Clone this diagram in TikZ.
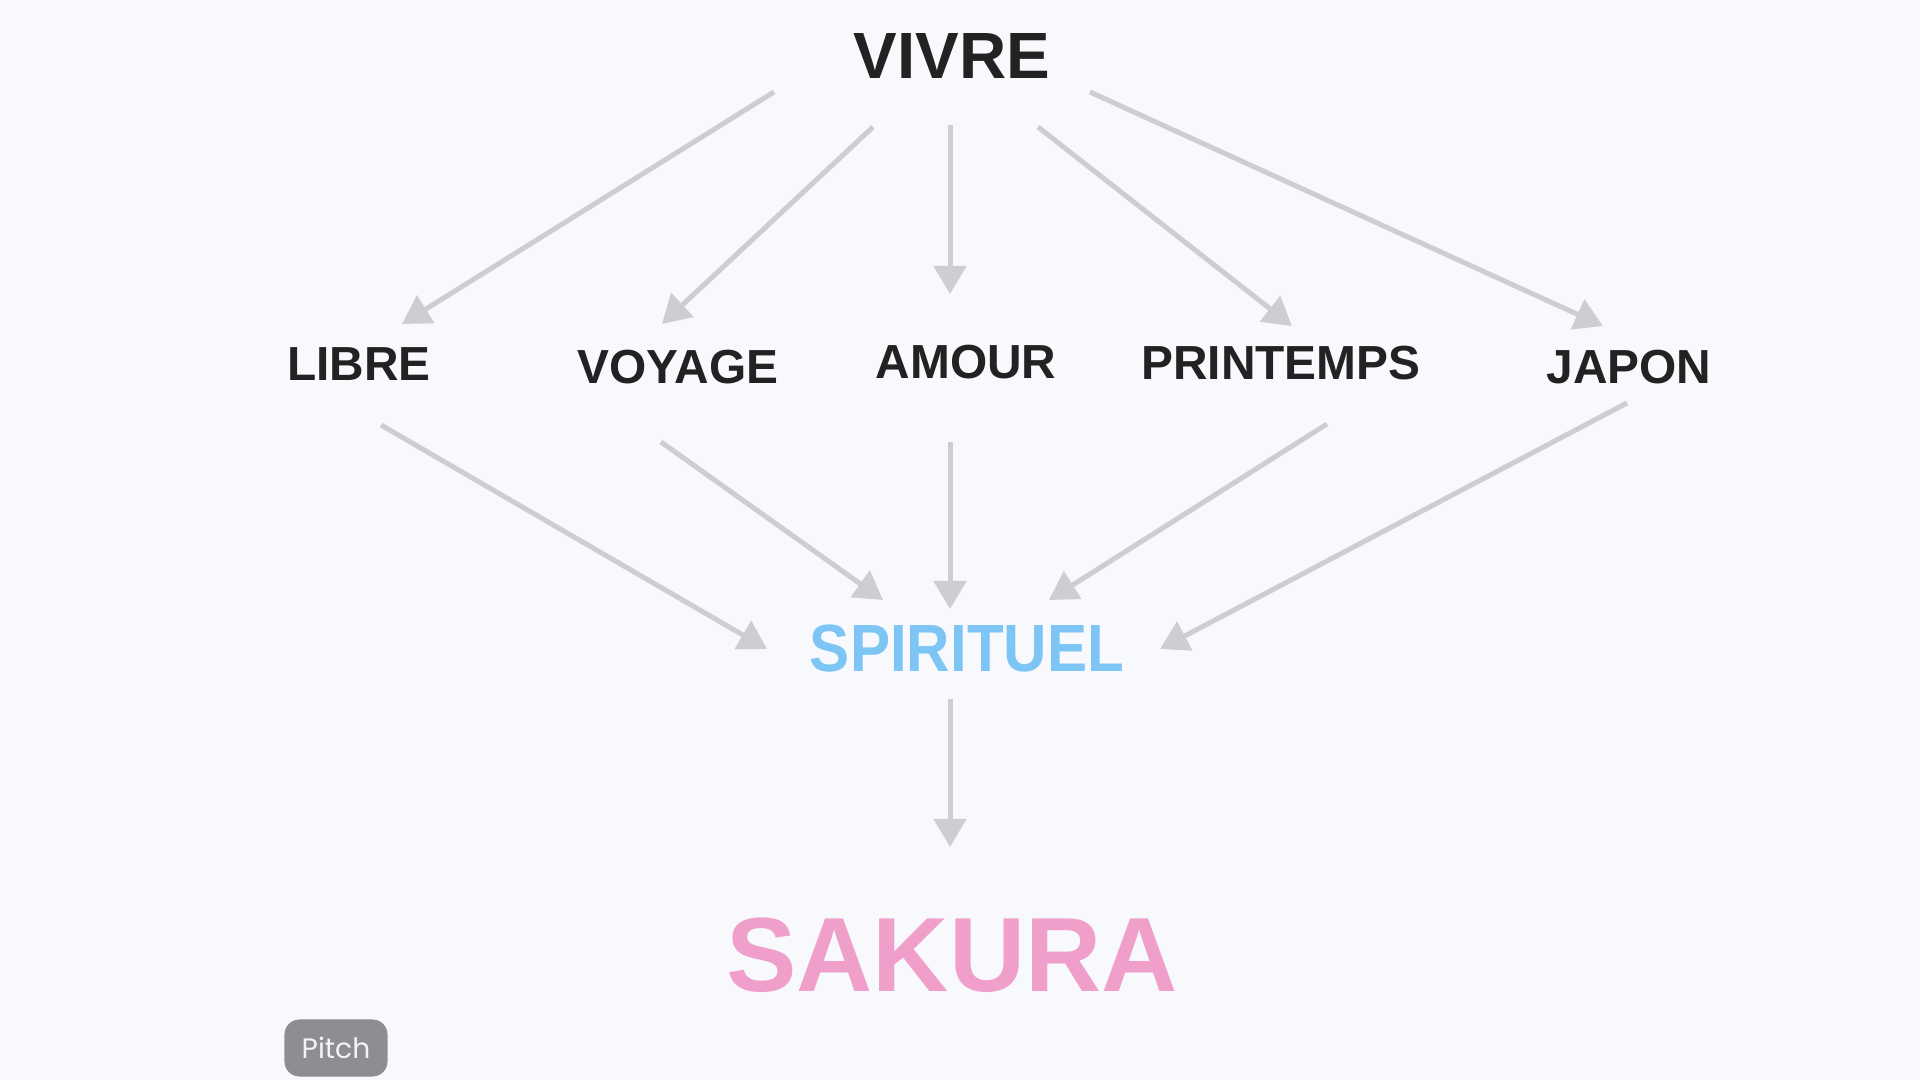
\documentclass[tikz,border=0pt]{standalone}
\usepackage{fontspec}
\setmainfont{Liberation Sans}
\newfontfamily\narrowfont[FakeStretch=0.9]{Liberation Sans}
\newfontfamily\badgefont{Poppins}
\usetikzlibrary{arrows.meta}
\definecolor{bgcol}{HTML}{F7F9FD}
\definecolor{linkcol}{HTML}{CDCDD2}
\definecolor{wordcol}{HTML}{222222}
\definecolor{spiritcol}{HTML}{7DC5F5}
\definecolor{sakuracol}{HTML}{F09FCA}
\definecolor{badgecol}{HTML}{8E8E92}
\begin{document}
\begin{tikzpicture}[x=0.01cm, y=-0.01cm,
    every node/.style={font=\bfseries, text=wordcol, inner sep=0pt},
    word/.style={font=\bfseries\fontsize{13.6}{16}\selectfont},
    link/.style={draw=linkcol, line width=0.05cm, -{Triangle[length=0.28cm, width=0.32cm]}}]
      \useasboundingbox[fill=bgcol] (0,0) rectangle (1920,1080);
      \node (vivre) at (952,56) [font=\bfseries\fontsize{18.6}{22}\selectfont] {VIVRE};
      \node (libre) at (359,364) [word] {LIBRE};
      \node (voyage) at (678,367) [word] {VOYAGE};
      \node (amour) at (966,362) [word] {AMOUR};
      \node (printemps) at (1281,363) [word] {PRINTEMPS};
      \node (japon) at (1629,367) [word] {JAPON};
      \node (spirituel) at (967,649) [font=\narrowfont\bfseries\fontsize{19}{23}\selectfont, text=spiritcol] {SPIRITUEL};
      \node (sakura) at (952,955) [font=\bfseries\fontsize{30}{36}\selectfont, text=sakuracol] {SAKURA};
      \node (pitch) at (336,1048) [fill=badgecol, rounded corners=0.15cm, minimum width=1.03cm, minimum height=0.57cm,
        font=\badgefont\fontsize{8}{9}\selectfont, text=white!90!badgecol] {Pitch};
      \foreach \source/\sx/\sy/\dest/\dx/\dy in {vivre/-178/36/libre/43/-40, vivre/-79/71/voyage/-16/-43,
          vivre/-2/69/amour/-16/-68, vivre/86/71/printemps/11/-37, vivre/138/36/japon/-26/-41,
          libre/22/61/spirituel/-200/0, voyage/-17/75/spirituel/-84/-49, amour/-16/80/spirituel/-17/-40,
          printemps/46/61/spirituel/82/-49, japon/-2/36/spirituel/193/0, spirituel/-17/50/sakura/-2/-108}
        \draw[link] ([shift={(\sx,\sy)}]\source.center) -- ([shift={(\dx,\dy)}]\dest.center);
    \end{tikzpicture}
\end{document}
